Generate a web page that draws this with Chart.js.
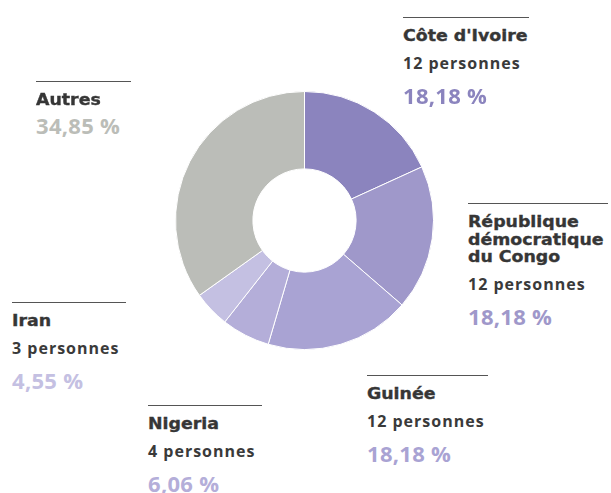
<!DOCTYPE html>
<html lang="fr">
<head>
<meta charset="utf-8">
<script src="https://cdn.jsdelivr.net/npm/chart.js@4"></script>
<style>
  html, body { margin: 0; padding: 0; background: #fff; }
  #wrap { position: relative; width: 611px; height: 493px; overflow: hidden; }
  #donut { position: absolute; left: 175px; top: 91px; }
  .rule { position: absolute; height: 0; border-top: 1.5px solid #555; }
  .t { position: absolute; white-space: nowrap; line-height: 1; }
  .titre { font-family: "DejaVu Sans", sans-serif; font-size: 15.5px; font-weight: 700; color: #363636;
           -webkit-text-stroke: 0.35px #363636; transform: scaleX(1.12); transform-origin: 0 0; }
  .pers { font-family: "Open Sans", sans-serif; font-size: 16px; font-weight: 700; color: #3a3a3a; letter-spacing: 1px; }
  .pct { font-family: "Open Sans", sans-serif; font-size: 22px; font-weight: 700; letter-spacing: 0.3px; }
</style>
</head>
<body>
<div id="wrap">
  <canvas id="donut" width="259" height="259"></canvas>
</div>
<script>
var pays = ["Côte d'Ivoire", "République démocratique du Congo", "Guinée", "Nigeria", "Iran", "Autres"];
var personnes = [12, 12, 12, 4, 3, null];
var pourcentages = [18.18, 18.18, 18.18, 6.06, 4.55, 34.85];
var couleurs = ['#8b84be', '#9f98ca', '#a9a3d3', '#b4aed9', '#c4c0e2', '#bbbdb8'];

// emplacement des étiquettes : x, y du filet, longueur du filet, lignes du titre
var etiquettes = [
  { x: 403, y: 17, w: 126, lignes: ["Côte d'Ivoire"] },
  { x: 468, y: 203, w: 140, lignes: ["République", "démocratique", "du Congo"] },
  { x: 367, y: 375, w: 121, lignes: ["Guinée"] },
  { x: 148, y: 405, w: 114, lignes: ["Nigeria"] },
  { x: 12, y: 302, w: 114, lignes: ["Iran"] },
  { x: 36, y: 81, w: 95, lignes: ["Autres"] }
];

// position de la ligne de base selon la police (line-height: 1)
var ratioBase = { titre: 0.846, pers: 0.888, pct: 0.888 };

function fmt(v) {
  return v.toFixed(2).replace('.', ',') + ' %';
}

function ajoute(cls, txt, x, base, fs, color) {
  var d = document.createElement('div');
  d.className = 't ' + cls;
  d.textContent = txt;
  d.style.left = x + 'px';
  d.style.top = (base - ratioBase[cls] * fs) + 'px';
  if (color) d.style.color = color;
  document.getElementById('wrap').appendChild(d);
}

var wrap = document.getElementById('wrap');
for (var i = 0; i < pays.length; i++) {
  var e = etiquettes[i];
  var r = document.createElement('div');
  r.className = 'rule';
  r.style.left = e.x + 'px';
  r.style.top = e.y + 'px';
  r.style.width = e.w + 'px';
  wrap.appendChild(r);

  var base = e.y + 25.5;
  for (var j = 0; j < e.lignes.length; j++) {
    ajoute('titre', e.lignes[j], e.x, base, 15.5);
    if (j < e.lignes.length - 1) base += 17.5;
  }
  if (personnes[i] !== null) {
    base += 27;
    ajoute('pers', personnes[i] + ' personnes', e.x, base, 16);
    base += 34;
  } else {
    base += 27;
  }
  ajoute('pct', fmt(pourcentages[i]), e.x, base, 22, couleurs[i]);
}

new Chart(document.getElementById('donut').getContext('2d'), {
  type: 'doughnut',
  data: {
    labels: pays,
    datasets: [{
      data: pourcentages,
      backgroundColor: couleurs,
      borderColor: '#ffffff',
      borderWidth: 1
    }]
  },
  options: {
    responsive: false,
    animation: false,
    cutout: '40%',
    plugins: {
      legend: { display: false },
      tooltip: { enabled: false }
    }
  }
});
</script>
</body>
</html>
